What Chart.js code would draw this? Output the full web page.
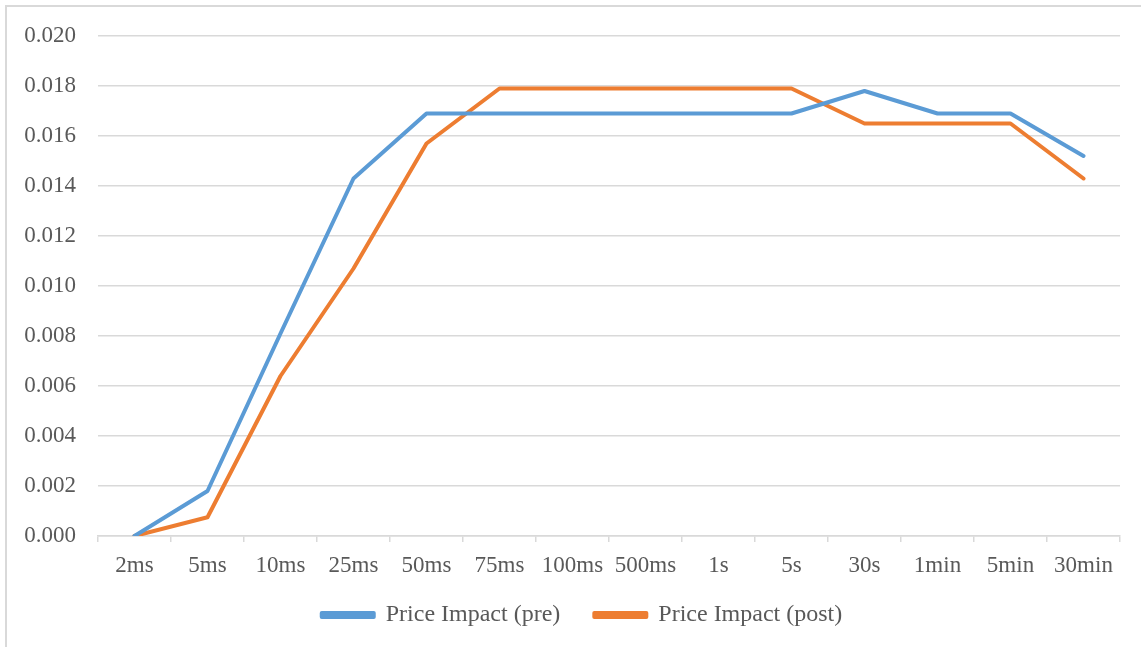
<!DOCTYPE html>
<html>
<head>
<meta charset="utf-8">
<script src="https://cdn.jsdelivr.net/npm/chart.js@4"></script>
<style>
html,body{margin:0;padding:0;background:#fff;overflow:hidden;}
#wrap{position:absolute;left:0;top:0;width:1141px;height:647px;}
#frame{position:absolute;left:5px;top:5px;width:1300px;height:800px;border:2px solid #d9d9d9;box-sizing:border-box;pointer-events:none;}
</style>
</head>
<body>
<div id="wrap"><canvas id="c" width="1141" height="647"></canvas></div>
<div id="frame"></div>
<script>
const categories = ["2ms","5ms","10ms","25ms","50ms","75ms","100ms","500ms","1s","5s","30s","1min","5min","30min"];
const preValues  = [0.0000,0.0018,0.0081,0.0143,0.0169,0.0169,0.0169,0.0169,0.0169,0.0169,0.0178,0.0169,0.0169,0.0152];
const postValues = [0.0000,0.00075,0.0064,0.0107,0.0157,0.0179,0.0179,0.0179,0.0179,0.0179,0.0165,0.0165,0.0165,0.0143];
const yTicks = [0.000,0.002,0.004,0.006,0.008,0.010,0.012,0.014,0.016,0.018,0.020];
const seriesNames = ["Price Impact (pre)","Price Impact (post)"];

const FONT = "'Liberation Serif','Times New Roman',serif";
const TXT = "#595959";
const GRID = "#d9d9d9";

const legendShift = {
  id: 'legendShift',
  afterLayout(chart) {
    const lg = chart.legend;
    if (!lg) return;
    lg.top -= 22; lg.bottom -= 22;
    lg.left += 22; lg.right += 22;
  }
};

new Chart(document.getElementById('c'), {
  type: 'line',
  data: {
    labels: categories,
    datasets: [
      {label: seriesNames[0], data: preValues, borderColor: '#5B9BD5', backgroundColor: '#5B9BD5', borderWidth: 4, pointRadius: 0, tension: 0, borderCapStyle: 'round', borderJoinStyle: 'round'},
      {label: seriesNames[1], data: postValues, borderColor: '#ED7D31', backgroundColor: '#ED7D31', borderWidth: 4, pointRadius: 0, tension: 0, borderCapStyle: 'round', borderJoinStyle: 'round'}
    ]
  },
  plugins: [legendShift],
  options: {
    responsive: false,
    animation: false,
    devicePixelRatio: 1,
    layout: {padding: {left: 0, right: 21, top: 36, bottom: -12}},
    plugins: {
      tooltip: {enabled: false},
      legend: {
        position: 'bottom',
        labels: {
          font: {family: FONT, size: 24},
          color: TXT,
          boxWidth: 52,
          boxHeight: 4,
          padding: 34
        }
      }
    },
    scales: {
      x: {
        offset: true,
        grid: {drawOnChartArea: false, drawTicks: true, tickLength: 6, color: GRID, lineWidth: 1.5, offset: true},
        border: {display: true, color: GRID, width: 1.5},
        ticks: {font: {family: FONT, size: 23}, color: TXT, padding: 10, maxRotation: 0, autoSkip: false},
        afterFit: s => { s.height = 55; }
      },
      y: {
        min: 0, max: 0.020,
        afterBuildTicks: s => { s.ticks = yTicks.map(v => ({value: v})); },
        grid: {drawTicks: false, color: GRID, lineWidth: 1.5},
        border: {display: false},
        ticks: {font: {family: FONT, size: 23}, color: TXT, padding: 22, callback: v => Number(v).toFixed(3)},
        afterFit: s => { s.width = 98; }
      }
    }
  }
});
</script>
</body>
</html>
